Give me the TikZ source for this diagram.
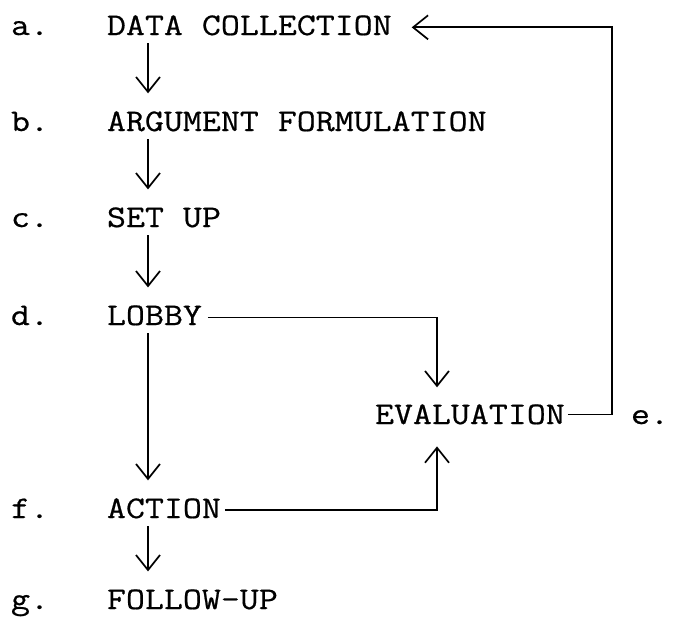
\documentclass[tikz,border=0pt]{standalone}
\usepackage{fontspec}
\newfontfamily\typewfont[FakeStretch=1.17,FakeBold=0.6]{Latin Modern Mono}
\usetikzlibrary{arrows.meta}
\newcommand{\typew}{\typewfont\fontsize{31.5}{36}\selectfont}
\begin{document}
\begin{tikzpicture}[x=1pt,y=-1pt,
  txt/.style={anchor=base west, inner sep=0pt, outer sep=0pt, font=\typew},
  line/.style={line width=1.7pt, line join=miter},
  arr/.style={line, -{Straight Barb[length=15pt,width=24pt,line width=1.7pt]}},
  down/.style={arr, shorten <=8pt, shorten >=18pt}
]
\useasboundingbox (0,0) rectangle (676,616);
% row labels
\node[txt] (la) at (11,35) {a.};
\node[txt] (lb) at (11,131) {b.};
\node[txt] (lc) at (11,227) {c.};
\node[txt] (ld) at (11,325) {d.};
\node[txt] (lf) at (11,518) {f.};
\node[txt] (lg) at (11,609) {g.};
\node[txt] (le) at (631,424) {e.};
% steps
\node[txt] (dc) at (107,35) {DATA COLLECTION};
\node[txt] (af) at (107,131) {ARGUMENT FORMULATION};
\node[txt] (su) at (107,227) {SET UP};
\node[txt] (lo) at (107,325) {LOBBY};
\node[txt] (ev) at (375,424) {EVALUATION};
\node[txt] (ac) at (107,518) {ACTION};
\node[txt] (fu) at (107,609) {FOLLOW-UP};
% columns
\coordinate (col) at (148,0);
\coordinate (evcol) at (437,0);
\coordinate (fb) at (612,0);
% vertical flow
\draw[down] (dc.south -| col) -- (af.north -| col);
\draw[down] (af.south -| col) -- (su.north -| col);
\draw[down] (su.south -| col) -- (lo.north -| col);
\draw[down] (lo.south -| col) -- (ac.north -| col);
\draw[down] (ac.south -| col) -- (fu.north -| col);
% to evaluation
\draw[arr, shorten <=6pt, shorten >=17pt] ([yshift=-2pt]lo.east) -- ([yshift=-2pt]lo.east -| evcol) -- (ev.north -| evcol);
\draw[arr, shorten <=4pt, shorten >=22pt] ([yshift=-1.5pt]ac.east) -- ([yshift=-1.5pt]ac.east -| evcol) -- (ev.south -| evcol);
% feedback
\draw[arr, shorten <=3pt, shorten >=20pt] (ev.east) -- (ev.east -| fb) -- ([yshift=-2pt]dc.east -| fb) -- ([yshift=-2pt]dc.east);
\end{tikzpicture}
\end{document}
